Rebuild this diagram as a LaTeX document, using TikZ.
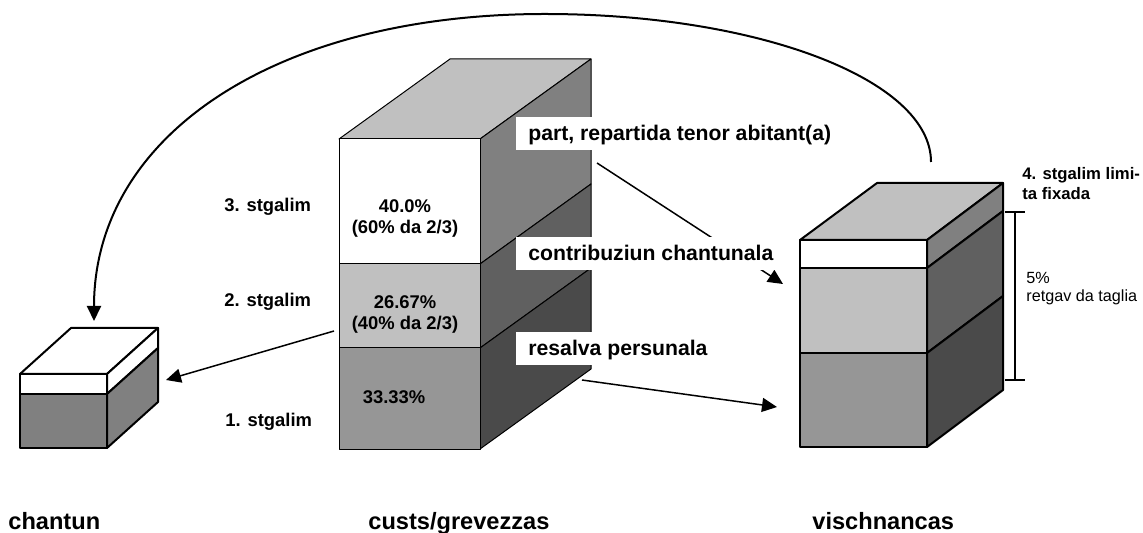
\documentclass[tikz,border=0pt]{standalone}
\usepackage{fontspec}
\setmainfont{Liberation Sans}
\usetikzlibrary{arrows.meta}

\definecolor{toplight}{HTML}{C0C0C0}
\definecolor{frontdark}{HTML}{969696}
\definecolor{sideone}{HTML}{808080}
\definecolor{sidetwo}{HTML}{606060}
\definecolor{sidethree}{HTML}{4A4A4A}

\tikzset{
  thinedge/.style={draw, line width=0.5pt, line join=round},
  boldedge/.style={draw, line width=1pt, line join=round},
  tag/.style={fill=white, anchor=base west, inner xsep=6pt, inner ysep=3.5pt,
    text height=8.5pt, text depth=1pt, font=\bfseries\fontsize{10.6}{12}\selectfont},
  lvl/.style={inner sep=0pt, anchor=base west, font=\bfseries\fontsize{9.2}{11}\selectfont},
  pct/.style={inner sep=0pt, align=center, font=\bfseries\fontsize{9.2}{10.5}\selectfont},
  caption/.style={inner sep=0pt, anchor=base west, font=\bfseries\fontsize{11.8}{14}\selectfont},
  arr/.style={-{Triangle[length=7.5pt,width=7pt]}, line width=0.75pt}
}

\begin{document}
\begin{tikzpicture}[x=0.5pt, y=-0.5pt]
    \useasboundingbox (0,0) rectangle (1143,533);

    % Chantun box
    \filldraw[boldedge, fill=white] (20,374) -- (71,328) -- (158,328) -- (107,374) -- cycle;
    \filldraw[boldedge, fill=white] (107,374) -- (158,328) -- (158,348) -- (107,394) -- cycle;
    \filldraw[boldedge, fill=sideone] (107,394) -- (158,348) -- (158,402) -- (107,448) -- cycle;
    \filldraw[boldedge, fill=white] (20,374) rectangle (107,394);
    \filldraw[boldedge, fill=sideone] (20,394) rectangle (107,448);

    % Custs/grevezzas stack
    \filldraw[thinedge, fill=toplight] (339,139) -- (450,59) -- (591,59) -- (480,139) -- cycle;
    \filldraw[thinedge, fill=sideone] (480,139) -- (591,59) -- (591,184) -- (480,264) -- cycle;
    \filldraw[thinedge, fill=sidetwo] (480,264) -- (591,184) -- (591,268) -- (480,348) -- cycle;
    \filldraw[thinedge, fill=sidethree] (480,348) -- (591,268) -- (591,369) -- (480,449) -- cycle;
    \filldraw[thinedge, fill=white] (339,139) rectangle (480,264);
    \filldraw[thinedge, fill=toplight] (339,264) rectangle (480,348);
    \filldraw[thinedge, fill=frontdark] (339,348) rectangle (480,449);

    % Vischnancas stack
    \filldraw[boldedge, fill=toplight] (800,240) -- (877,183) -- (1003,183) -- (927,240) -- cycle;
    \filldraw[boldedge, fill=sideone] (927,240) -- (1003,183) -- (1003,211) -- (927,268) -- cycle;
    \filldraw[boldedge, fill=sidetwo] (927,268) -- (1003,211) -- (1003,296) -- (927,353) -- cycle;
    \filldraw[boldedge, fill=sidethree] (927,353) -- (1003,296) -- (1003,390) -- (927,447) -- cycle;
    \filldraw[boldedge, fill=white] (800,240) rectangle (927,268);
    \filldraw[boldedge, fill=toplight] (800,268) rectangle (927,353);
    \filldraw[boldedge, fill=frontdark] (800,353) rectangle (927,447);

    % 5% bracket
    \draw[line width=1pt] (1005,212) -- (1025,212) (1015,212) -- (1015,380) (1005,380) -- (1025,380);

    % Connector ends
    \coordinate (vtop) at (931,162);
    \coordinate (arctop) at (545,14);
    \coordinate (ctop) at (94,321);
    \coordinate (custsleft) at (334,331);
    \coordinate (chantunside) at (166,380);
    \coordinate (partfoot) at (597,163);
    \coordinate (vupper) at (783,284);
    \coordinate (custsfoot) at (582,380);
    \coordinate (vlower) at (777,407);

    % Labels on the stack
    \node[tag] (part) at (516,141) {part, repartida tenor abitant(a)\hspace{10pt}};
    \draw[arr] (partfoot) -- (vupper);
    \node[tag] (contrib) at (516,261) {contribuziun chantunala\hspace{4pt}};
    \node[tag] (resalva) at (516,356) {resalva persunala\hspace{7pt}};

    % Arrows
    \draw[arr, line width=1pt] (vtop) .. controls (931,80) and (759,14) .. (arctop)
        .. controls (275,14) and (94,136) .. (ctop);
    \draw[arr] (custsleft) -- (chantunside);
    \draw[arr] (custsfoot) -- (vlower);

    % Levels
    \node[lvl] (lvl3) at (224,212) {3. stgalim};
    \node[lvl] (lvl2) at (224,307) {2. stgalim};
    \node[lvl] (lvl1) at (225,426) {1. stgalim};
    \node[pct] (pct3) at (405,218) {40.0\%\\(60\% da 2/3)};
    \node[pct] (pct2) at (405,314) {26.67\%\\(40\% da 2/3)};
    \node[pct] (pct1) at (394,397.5) {33.33\%};

    % Right notes
    \node[inner sep=0pt, anchor=north west, align=left, font=\bfseries\fontsize{8.35}{10}\selectfont] (lvl4) at (1022,167) {4. stgalim limi-\\ta fixada};
    \node[inner sep=0pt, anchor=north west, align=left, font=\fontsize{8.1}{9}\selectfont] (share) at (1026,272) {5\%\\retgav da taglia};

    % Captions
    \node[caption] (chantun) at (8,529) {chantun};
    \node[caption] (custs) at (368,529) {custs/grevezzas};
    \node[caption] (vischnancas) at (812,529) {vischnancas};
\end{tikzpicture}
\end{document}
